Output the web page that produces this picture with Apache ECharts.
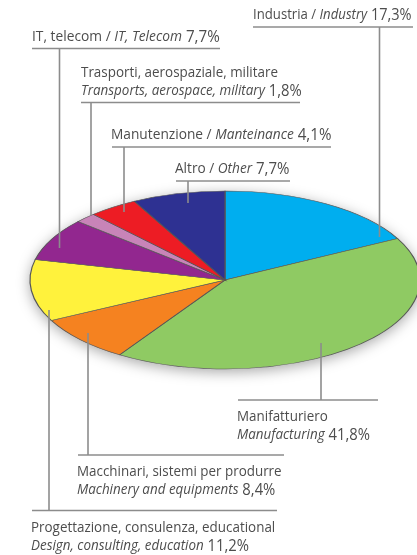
<!DOCTYPE html>
<html>
<head>
<meta charset="utf-8">
<style>
  html, body { margin: 0; padding: 0; background: #fff; }
  #chart { width: 417px; height: 555px; filter: blur(0.45px); }
</style>
<script src="https://cdn.jsdelivr.net/npm/echarts@6/dist/echarts.min.js"></script>
</head>
<body>
<div id="chart"></div>
<script>
// clockwise from 12 o'clock
const namesIt = ['Industria', 'Manifatturiero', 'Macchinari, sistemi per produrre', 'Progettazione, consulenza, educational', 'IT, telecom', 'Trasporti, aerospaziale, militare', 'Manutenzione', 'Altro'];
const namesEn = ['Industry', 'Manufacturing', 'Machinery and equipments', 'Design, consulting, education', 'IT, Telecom', 'Transports, aerospace, military', 'Manteinance', 'Other'];
const shares = [17.3, 41.8, 8.4, 11.2, 7.7, 1.8, 4.1, 7.7];
const colors = ['#00aeef', '#8fca63', '#f58220', '#fff23c', '#92278f', '#c884b8', '#ed1c24', '#2e3192'];

// leader + underline + text position for each label
// rule: [x1, x2, y], stem: [x, yFrom], text: [x, y of first line], sx: text squeeze, oneLine: same row for both languages
const callouts = [
  { rule: [253, 413, 27], stem: [379.5, 237], text: [253, 15], sx: 0.908, oneLine: true },
  { rule: [238, 378, 400], stem: [321, 343], text: [237, 417], sx: 0.925 },
  { rule: [78, 284, 455], stem: [88, 333], text: [77, 472], sx: 0.925 },
  { rule: [32, 277, 510.5], stem: [49, 310], text: [31, 528], sx: 0.925 },
  { rule: [32, 220, 48.5], stem: [59.5, 248], text: [32, 37], sx: 0.95, oneLine: true },
  { rule: [81, 300, 102.5], stem: [91, 215], text: [81, 73], sx: 0.925 },
  { rule: [112, 331, 147], stem: [124, 212], text: [111, 135], sx: 0.946, oneLine: true },
  { rule: [176, 290, 181], stem: [188, 203], text: [175, 169], sx: 0.94, oneLine: true }
];

const cx = 225, cy = 280, rx = 195, ry = 89;
const font = '"Open Sans", sans-serif';
const textColor = '#4d4d4d';
const lineColor = '#8c8c8c';

const total = shares.reduce((a, b) => a + b, 0);

function renderSlice(params, api) {
  let before = 0;
  for (let i = 0; i < params.dataIndex; i++) before += shares[i];
  const start = before / total * Math.PI * 2 - Math.PI / 2;
  const end = start + api.value(0) / total * Math.PI * 2;
  const slice = {
    type: 'sector',
    x: cx,
    y: cy,
    scaleY: ry / rx,
    shape: { cx: 0, cy: 0, r: rx, r0: 0, startAngle: start, endAngle: end },
    style: { fill: colors[params.dataIndex], stroke: '#555', lineWidth: 1.2, strokeNoScale: true }
  };
  if (params.dataIndex > 0) return slice;
  return {
    type: 'group',
    children: [{
      type: 'ellipse',
      shape: { cx: cx, cy: cy, rx: rx, ry: ry },
      style: { fill: '#fff', shadowBlur: 14, shadowColor: 'rgba(0,0,0,0.35)', shadowOffsetY: 3 }
    }, slice]
  };
}

function renderCallout(params, api) {
  const i = params.dataIndex;
  const c = callouts[i];
  const pct = api.value(0).toFixed(1).replace('.', ',') + '%';
  const rich = {
    r: { fontFamily: font, fontSize: 14.5, fill: textColor, lineHeight: 18 },
    i: { fontFamily: font, fontSize: 14.5, fontStyle: 'italic', fill: textColor, lineHeight: 18 },
    p: { fontFamily: font, fontSize: 16, fill: textColor, lineHeight: 18 }
  };
  const text = c.oneLine
    ? '{r|' + namesIt[i] + ' / }{i|' + namesEn[i] + '}{p| ' + pct + '}'
    : '{r|' + namesIt[i] + '}\n{i|' + namesEn[i] + '}{p| ' + pct + '}';
  const lineStyle = { stroke: lineColor, lineWidth: 1.6 };
  return {
    type: 'group',
    children: [
      { type: 'line', shape: { x1: c.rule[0], y1: c.rule[2], x2: c.rule[1], y2: c.rule[2] }, style: lineStyle },
      { type: 'line', shape: { x1: c.stem[0], y1: c.rule[2], x2: c.stem[0], y2: c.stem[1] }, style: lineStyle },
      {
        type: 'text',
        x: c.text[0],
        y: c.text[1] - 9,
        scaleX: c.sx,
        style: { text: text, rich: rich, textAlign: 'left', textVerticalAlign: 'top' }
      }
    ]
  };
}

const chart = echarts.init(document.getElementById('chart'));
chart.setOption({
  animation: false,
  series: [
    { type: 'custom', coordinateSystem: 'none', silent: true, renderItem: renderSlice, data: shares.map(v => [v]) },
    { type: 'custom', coordinateSystem: 'none', silent: true, renderItem: renderCallout, data: shares.map(v => [v]) }
  ]
});
</script>
</body>
</html>
